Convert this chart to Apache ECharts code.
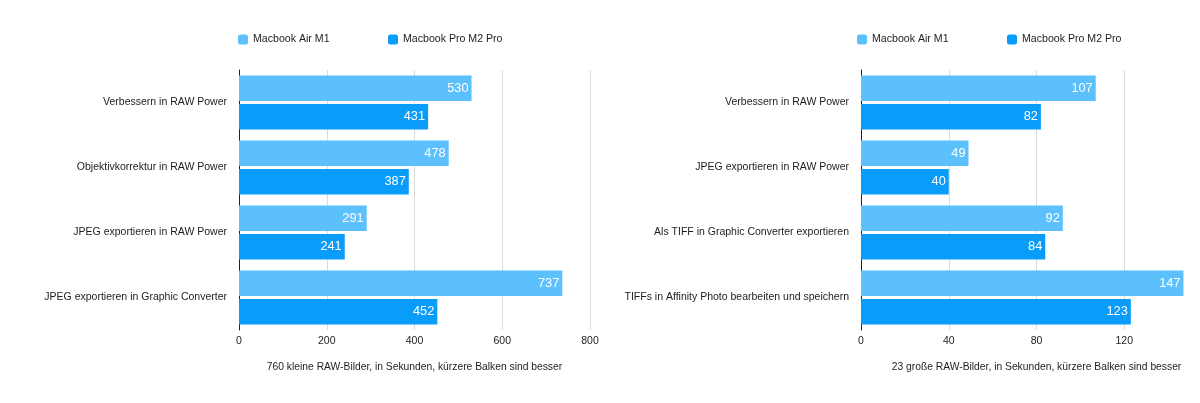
<!DOCTYPE html>
<html>
<head>
<meta charset="utf-8">
<script src="https://cdn.jsdelivr.net/npm/echarts@6/dist/echarts.min.js"></script>
<style>
html,body{margin:0;padding:0;background:#fff;}
#chart{width:1200px;height:403px;}
</style>
</head>
<body>
<div id="chart"></div>
<script>
var seriesNames = ['Macbook Air M1', 'Macbook Pro M2 Pro'];
var leftCategories = ['Verbessern in RAW Power', 'Objektivkorrektur in RAW Power', 'JPEG exportieren in RAW Power', 'JPEG exportieren in Graphic Converter'];
var leftAir = [530, 478, 291, 737];
var leftPro = [431, 387, 241, 452];
var leftTitle = '760 kleine RAW-Bilder, in Sekunden, kürzere Balken sind besser';
var rightCategories = ['Verbessern in RAW Power', 'JPEG exportieren in RAW Power', 'Als TIFF in Graphic Converter exportieren', 'TIFFs in Affinity Photo bearbeiten und speichern'];
var rightAir = [107, 49, 92, 147];
var rightPro = [82, 40, 84, 123];
var rightTitle = '23 große RAW-Bilder, in Sekunden, kürzere Balken sind besser';

var FONT = '"Liberation Sans", Arial, Helvetica, sans-serif';
var TXT = '#1d1d1d';
var C_AIR = '#5cc0fc';
var C_PRO = '#0a9cf9';

function xAx(idx, max, interval, title) {
  return {
    type: 'value', gridIndex: idx, min: 0, max: max, interval: interval,
    axisLine: {show: false}, axisTick: {show: false},
    splitLine: {show: true, lineStyle: {color: '#dcdcdc', width: 1}},
    axisLabel: {color: TXT, fontSize: 10.5, fontFamily: FONT, margin: 6},
    name: title, nameLocation: 'middle', nameGap: 32,
    nameTextStyle: {color: TXT, fontSize: 10.3, fontFamily: FONT}
  };
}
function yAx(idx, cats) {
  return {
    type: 'category', gridIndex: idx, data: cats, inverse: true,
    axisLine: {show: true, lineStyle: {color: '#222', width: 1}},
    axisTick: {show: false},
    axisLabel: {color: TXT, fontSize: 10.5, fontFamily: FONT, margin: 12}
  };
}
function bar(name, idx, data, color) {
  return {
    name: name, type: 'bar', xAxisIndex: idx, yAxisIndex: idx, data: data,
    barWidth: 25.5, barGap: '12%',
    itemStyle: {color: color},
    label: {show: true, position: 'insideRight', distance: 3, color: '#fff', fontSize: 12.8, fontFamily: FONT},
    emphasis: {disabled: true}
  };
}
function leg(name, left) {
  return {
    data: [name], left: left, top: 34, padding: 0, icon: 'roundRect', itemWidth: 10, itemHeight: 10,
    textStyle: {color: TXT, fontSize: 10.6, fontFamily: FONT}, selectedMode: false
  };
}

var chart = echarts.init(document.getElementById('chart'), null, {renderer: 'canvas'});
chart.setOption({
  animation: false,
  backgroundColor: '#fff',
  color: [C_AIR, C_PRO],
  legend: [leg(seriesNames[0], 238), leg(seriesNames[1], 388), leg(seriesNames[0], 857), leg(seriesNames[1], 1007)],
  grid: [
    {left: 239, top: 70, width: 351, height: 260, outerBoundsMode: 'none', containLabel: false},
    {left: 861, top: 70, width: 351, height: 260, outerBoundsMode: 'none', containLabel: false}
  ],
  xAxis: [xAx(0, 800, 200, leftTitle), xAx(1, 160, 40, rightTitle)],
  yAxis: [yAx(0, leftCategories), yAx(1, rightCategories)],
  series: [
    bar(seriesNames[0], 0, leftAir, C_AIR),
    bar(seriesNames[1], 0, leftPro, C_PRO),
    bar(seriesNames[0], 1, rightAir, C_AIR),
    bar(seriesNames[1], 1, rightPro, C_PRO)
  ]
});
</script>
</body>
</html>
